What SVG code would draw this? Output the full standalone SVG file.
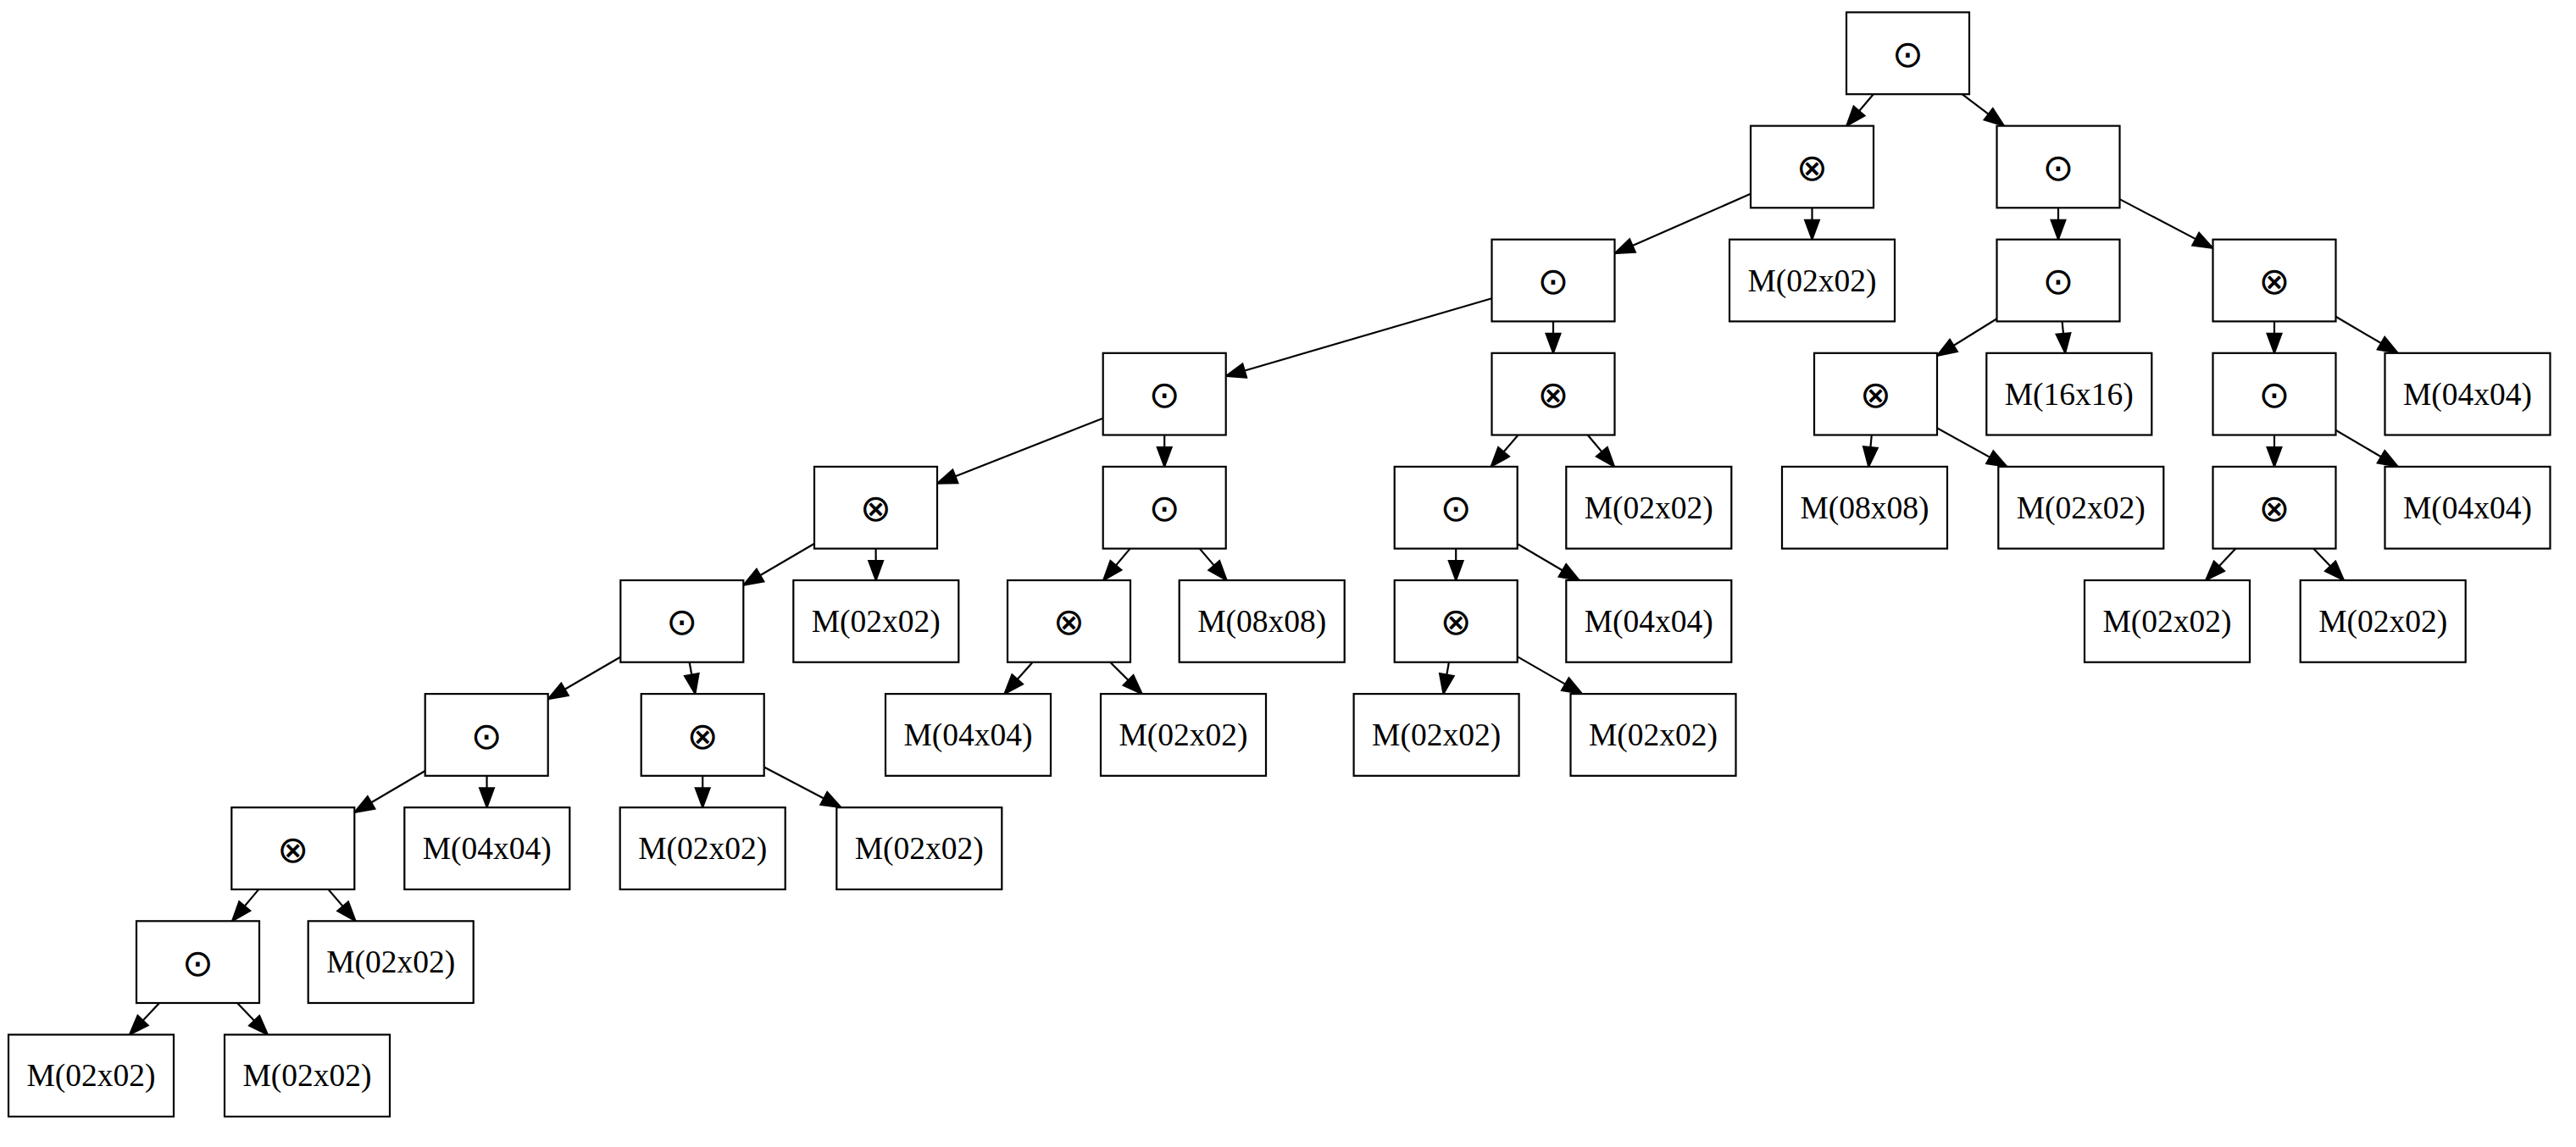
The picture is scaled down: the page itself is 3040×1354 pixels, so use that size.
<svg xmlns="http://www.w3.org/2000/svg" width="3040" height="1354" viewBox="0 0 3040 1354">
  <style>
    .box { fill: #fff; stroke: #000; stroke-width: 2.2; }
    .lbl { font-family: "Liberation Serif", "DejaVu Serif", serif; font-size: 37.5px; text-anchor: middle; fill: #000; }
    .op { font-family: "DejaVu Sans", "Liberation Serif", sans-serif; font-size: 44px; text-anchor: middle; fill: #000; }
    .edge { stroke: #000; stroke-width: 2.2; fill: none; marker-end: url(#ah); }
  </style>
  <defs>
    <marker id="ah" markerUnits="userSpaceOnUse" viewBox="-3 -3 30 23" markerWidth="30" markerHeight="23" refX="23" refY="8.5" orient="auto">
      <path d="M0,0 L23,8.5 L0,17 z" fill="#000" stroke="#000" stroke-width="2"/>
    </marker>
  </defs>
  <rect width="3040" height="1354" fill="#fff"/>

  <g id="edges">
    <line class="edge" x1="2210.8" y1="111.2" x2="2179.2" y2="148.6"/>
    <line class="edge" x1="2315.5" y1="111.2" x2="2365.0" y2="148.6"/>
    <line class="edge" x1="2066.0" y1="228.8" x2="1905.5" y2="299.2"/>
    <line class="edge" x1="2138.5" y1="245.3" x2="2138.5" y2="282.7"/>
    <line class="edge" x1="2429.0" y1="245.3" x2="2429.0" y2="282.7"/>
    <line class="edge" x1="2501.5" y1="235.1" x2="2611.5" y2="292.9"/>
    <line class="edge" x1="1760.5" y1="352.2" x2="1446.7" y2="444.0"/>
    <line class="edge" x1="1833.0" y1="379.4" x2="1833.0" y2="416.8"/>
    <line class="edge" x1="2356.5" y1="376.2" x2="2286.0" y2="420.0"/>
    <line class="edge" x1="2433.6" y1="379.4" x2="2437.2" y2="416.8"/>
    <line class="edge" x1="2684.0" y1="379.4" x2="2684.0" y2="416.8"/>
    <line class="edge" x1="2756.5" y1="373.7" x2="2829.8" y2="416.8"/>
    <line class="edge" x1="1301.7" y1="493.7" x2="1106.0" y2="570.7"/>
    <line class="edge" x1="1374.2" y1="513.5" x2="1374.2" y2="550.9"/>
    <line class="edge" x1="1791.6" y1="513.5" x2="1759.6" y2="550.9"/>
    <line class="edge" x1="1873.7" y1="513.5" x2="1905.1" y2="550.9"/>
    <line class="edge" x1="2208.8" y1="513.5" x2="2205.2" y2="550.9"/>
    <line class="edge" x1="2286.0" y1="505.3" x2="2368.4" y2="550.9"/>
    <line class="edge" x1="2684.0" y1="513.5" x2="2684.0" y2="550.9"/>
    <line class="edge" x1="2756.5" y1="507.8" x2="2829.8" y2="550.9"/>
    <line class="edge" x1="961.0" y1="641.8" x2="877.3" y2="690.8"/>
    <line class="edge" x1="1033.6" y1="647.6" x2="1033.7" y2="685.0"/>
    <line class="edge" x1="1333.6" y1="647.6" x2="1302.1" y2="685.0"/>
    <line class="edge" x1="1415.7" y1="647.6" x2="1447.7" y2="685.0"/>
    <line class="edge" x1="1718.2" y1="647.6" x2="1718.2" y2="685.0"/>
    <line class="edge" x1="1790.7" y1="642.0" x2="1863.7" y2="685.0"/>
    <line class="edge" x1="2638.4" y1="647.6" x2="2603.1" y2="685.0"/>
    <line class="edge" x1="2730.2" y1="647.6" x2="2766.0" y2="685.0"/>
    <line class="edge" x1="732.3" y1="775.5" x2="646.7" y2="825.3"/>
    <line class="edge" x1="813.6" y1="781.7" x2="820.4" y2="819.1"/>
    <line class="edge" x1="1218.6" y1="781.7" x2="1185.4" y2="819.1"/>
    <line class="edge" x1="1310.2" y1="781.7" x2="1347.8" y2="819.1"/>
    <line class="edge" x1="1709.9" y1="781.7" x2="1703.4" y2="819.1"/>
    <line class="edge" x1="1790.7" y1="775.1" x2="1867.1" y2="819.1"/>
    <line class="edge" x1="501.7" y1="910.0" x2="418.3" y2="959.0"/>
    <line class="edge" x1="574.5" y1="915.8" x2="574.6" y2="953.2"/>
    <line class="edge" x1="829.2" y1="915.8" x2="829.2" y2="953.2"/>
    <line class="edge" x1="901.7" y1="905.5" x2="992.6" y2="953.2"/>
    <line class="edge" x1="305.3" y1="1049.9" x2="274.0" y2="1087.3"/>
    <line class="edge" x1="387.4" y1="1049.9" x2="419.6" y2="1087.3"/>
    <line class="edge" x1="188.1" y1="1184.0" x2="152.9" y2="1221.4"/>
    <line class="edge" x1="280.0" y1="1184.0" x2="316.0" y2="1221.4"/>
  </g>

  <!-- rank 0 -->
  <g id="n0"><rect class="box" x="2179" y="14.5" width="145" height="96.7"/><text class="op" x="2251.5" y="78.9">⊙</text></g>
  <!-- rank 1 -->
  <g id="n1"><rect class="box" x="2066" y="148.6" width="145" height="96.7"/><text class="op" x="2138.5" y="213">⊗</text></g>
  <g id="n2"><rect class="box" x="2356.5" y="148.6" width="145" height="96.7"/><text class="op" x="2429" y="213">⊙</text></g>
  <!-- rank 2 -->
  <g id="n3"><rect class="box" x="1760.5" y="282.7" width="145" height="96.7"/><text class="op" x="1833" y="347.1">⊙</text></g>
  <g id="n4"><rect class="box" x="2041" y="282.7" width="195" height="96.7"/><text class="lbl" x="2138.5" y="343.6">M(02x02)</text></g>
  <g id="n5"><rect class="box" x="2356.5" y="282.7" width="145" height="96.7"/><text class="op" x="2429" y="347.1">⊙</text></g>
  <g id="n6"><rect class="box" x="2611.5" y="282.7" width="145" height="96.7"/><text class="op" x="2684" y="347.1">⊗</text></g>
  <!-- rank 3 -->
  <g id="n7"><rect class="box" x="1301.7" y="416.8" width="145" height="96.7"/><text class="op" x="1374.2" y="481.2">⊙</text></g>
  <g id="n8"><rect class="box" x="1760.5" y="416.8" width="145" height="96.7"/><text class="op" x="1833" y="481.2">⊗</text></g>
  <g id="n9"><rect class="box" x="2141" y="416.8" width="145" height="96.7"/><text class="op" x="2213.5" y="481.2">⊗</text></g>
  <g id="n10"><rect class="box" x="2344.3" y="416.8" width="195" height="96.7"/><text class="lbl" x="2441.8" y="477.7">M(16x16)</text></g>
  <g id="n11"><rect class="box" x="2611.5" y="416.8" width="145" height="96.7"/><text class="op" x="2684" y="481.2">⊙</text></g>
  <g id="n12"><rect class="box" x="2814.5" y="416.8" width="195" height="96.7"/><text class="lbl" x="2912" y="477.7">M(04x04)</text></g>
  <!-- rank 4 -->
  <g id="n13"><rect class="box" x="961" y="550.9" width="145" height="96.7"/><text class="op" x="1033.5" y="615.3">⊗</text></g>
  <g id="n14"><rect class="box" x="1301.7" y="550.9" width="145" height="96.7"/><text class="op" x="1374.2" y="615.3">⊙</text></g>
  <g id="n15"><rect class="box" x="1645.7" y="550.9" width="145" height="96.7"/><text class="op" x="1718.2" y="615.3">⊙</text></g>
  <g id="n16"><rect class="box" x="1848.3" y="550.9" width="195" height="96.7"/><text class="lbl" x="1945.8" y="611.8">M(02x02)</text></g>
  <g id="n17"><rect class="box" x="2103" y="550.9" width="195" height="96.7"/><text class="lbl" x="2200.5" y="611.8">M(08x08)</text></g>
  <g id="n18"><rect class="box" x="2358.3" y="550.9" width="195" height="96.7"/><text class="lbl" x="2455.8" y="611.8">M(02x02)</text></g>
  <g id="n19"><rect class="box" x="2611.5" y="550.9" width="145" height="96.7"/><text class="op" x="2684" y="615.3">⊗</text></g>
  <g id="n20"><rect class="box" x="2814.5" y="550.9" width="195" height="96.7"/><text class="lbl" x="2912" y="611.8">M(04x04)</text></g>
  <!-- rank 5 -->
  <g id="n21"><rect class="box" x="732.3" y="685" width="145" height="96.7"/><text class="op" x="804.8" y="749.4">⊙</text></g>
  <g id="n22"><rect class="box" x="936.3" y="685" width="195" height="96.7"/><text class="lbl" x="1033.8" y="745.9">M(02x02)</text></g>
  <g id="n23"><rect class="box" x="1189" y="685" width="145" height="96.7"/><text class="op" x="1261.5" y="749.4">⊗</text></g>
  <g id="n24"><rect class="box" x="1391.7" y="685" width="195" height="96.7"/><text class="lbl" x="1489.2" y="745.9">M(08x08)</text></g>
  <g id="n25"><rect class="box" x="1645.7" y="685" width="145" height="96.7"/><text class="op" x="1718.2" y="749.4">⊗</text></g>
  <g id="n26"><rect class="box" x="1848.3" y="685" width="195" height="96.7"/><text class="lbl" x="1945.8" y="745.9">M(04x04)</text></g>
  <g id="n27"><rect class="box" x="2460" y="685" width="195" height="96.7"/><text class="lbl" x="2557.5" y="745.9">M(02x02)</text></g>
  <g id="n28"><rect class="box" x="2714.7" y="685" width="195" height="96.7"/><text class="lbl" x="2812.2" y="745.9">M(02x02)</text></g>
  <!-- rank 6 -->
  <g id="n29"><rect class="box" x="501.7" y="819.1" width="145" height="96.7"/><text class="op" x="574.2" y="883.5">⊙</text></g>
  <g id="n30"><rect class="box" x="756.7" y="819.1" width="145" height="96.7"/><text class="op" x="829.2" y="883.5">⊗</text></g>
  <g id="n31"><rect class="box" x="1045" y="819.1" width="195" height="96.7"/><text class="lbl" x="1142.5" y="880">M(04x04)</text></g>
  <g id="n32"><rect class="box" x="1299" y="819.1" width="195" height="96.7"/><text class="lbl" x="1396.5" y="880">M(02x02)</text></g>
  <g id="n33"><rect class="box" x="1597.6" y="819.1" width="195" height="96.7"/><text class="lbl" x="1695.1" y="880">M(02x02)</text></g>
  <g id="n34"><rect class="box" x="1853.5" y="819.1" width="195" height="96.7"/><text class="lbl" x="1951" y="880">M(02x02)</text></g>
  <!-- rank 7 -->
  <g id="n35"><rect class="box" x="273.3" y="953.2" width="145" height="96.7"/><text class="op" x="345.8" y="1017.6">⊗</text></g>
  <g id="n36"><rect class="box" x="477.3" y="953.2" width="195" height="96.7"/><text class="lbl" x="574.8" y="1014.1">M(04x04)</text></g>
  <g id="n37"><rect class="box" x="731.7" y="953.2" width="195" height="96.7"/><text class="lbl" x="829.2" y="1014.1">M(02x02)</text></g>
  <g id="n38"><rect class="box" x="987.3" y="953.2" width="195" height="96.7"/><text class="lbl" x="1084.8" y="1014.1">M(02x02)</text></g>
  <!-- rank 8 -->
  <g id="n39"><rect class="box" x="161" y="1087.3" width="145" height="96.7"/><text class="op" x="233.5" y="1151.7">⊙</text></g>
  <g id="n40"><rect class="box" x="363.7" y="1087.3" width="195" height="96.7"/><text class="lbl" x="461.2" y="1148.2">M(02x02)</text></g>
  <!-- rank 9 -->
  <g id="n41"><rect class="box" x="10" y="1221.4" width="195" height="96.7"/><text class="lbl" x="107.5" y="1282.3">M(02x02)</text></g>
  <g id="n42"><rect class="box" x="265" y="1221.4" width="195" height="96.7"/><text class="lbl" x="362.5" y="1282.3">M(02x02)</text></g>
</svg>
